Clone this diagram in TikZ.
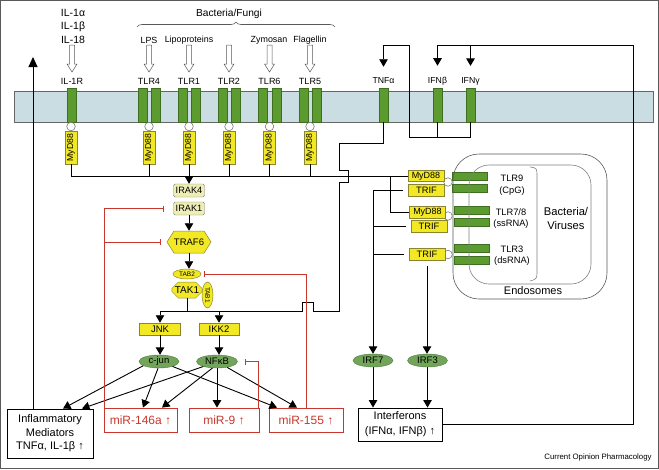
\documentclass[tikz,border=0pt]{standalone}
\usepackage{fontspec}
\setmainfont{Liberation Sans}
\usetikzlibrary{shapes.geometric,shapes.misc,shapes.symbols,arrows.meta,decorations.pathreplacing}
\definecolor{memb}{HTML}{CADDE2}
\definecolor{rgreen}{HTML}{5C9B2F}
\definecolor{rgreenD}{HTML}{3E6E1F}
\definecolor{ylw}{HTML}{F2E824}
\definecolor{ylwD}{HTML}{8C8530}
\definecolor{pale}{HTML}{EDEDB5}
\definecolor{egreen}{HTML}{72A55A}
\definecolor{egreenD}{HTML}{4C7A3A}
\definecolor{mred}{HTML}{C8372D}
\begin{document}
\begin{tikzpicture}[x=1pt,y=-1pt,
  recep/.style={draw=rgreenD,fill=rgreen,minimum width=9pt,minimum height=34pt,inner sep=0pt,line width=0.5pt},
  ebar/.style={draw=rgreenD,fill=rgreen,minimum width=35pt,minimum height=8pt,inner sep=0pt,line width=0.5pt},
  adap/.style={draw=ylwD,fill=ylw,inner sep=0pt,line width=0.5pt,font=\fontsize{9.3}{10}\selectfont},
  myv/.style={adap,rotate=90,minimum width=33pt,minimum height=12pt,font=\fontsize{8.7}{10}\selectfont},
  hyb/.style={adap,minimum width=36pt,minimum height=12pt},
  pbox/.style={draw=gray,fill=pale,rounded corners=1.5pt,minimum width=31pt,minimum height=13pt,inner sep=0pt,font=\fontsize{9.2}{10}\selectfont},
  gell/.style={ellipse,draw=egreenD,fill=egreen,minimum width=40pt,minimum height=13pt,inner sep=0pt,font=\fontsize{9.5}{10}\selectfont},
  lbl/.style={font=\fontsize{9}{10}\selectfont,inner sep=1pt},
  slbl/.style={font=\fontsize{8.7}{10}\selectfont,inner sep=1pt},
  lig/.style={font=\fontsize{8.9}{10}\selectfont,inner sep=1pt},
  circ/.style={circle,draw=gray!80!black,fill=white,minimum size=8.5pt,inner sep=0pt,line width=0.5pt},
  mir/.style={draw=mred,text=mred,line width=0.8pt,minimum height=24pt,inner sep=0pt,font=\fontsize{12}{13}\selectfont},
  obox/.style={draw=black,line width=0.9pt,align=center,inner sep=0pt},
  con/.style={line width=0.9pt},
  blk/.style={con,-{Triangle[length=7.5pt,width=8.5pt]}},
  inh/.style={mred,line width=0.8pt,-{Bar[width=6pt]}},
  hollow/.style={draw=gray!70!black,fill=white,line width=0.5pt}
]
\useasboundingbox (0,0) rectangle (659,469);
\draw[gray!70!black,line width=0.8pt] (0.5,0.5) rectangle (658.5,468.5);

% membrane
\draw[fill=memb,draw=gray!80!black,line width=0.5pt] (14,91.5) rectangle (653,122);

% receptors
\node[recep] (il1r) at (72,105) {};
\node[recep] (tlr4a) at (142.5,105) {};
\node[recep] (tlr4b) at (155.5,105) {};
\node[recep] (tlr1a) at (182.5,105) {};
\node[recep] (tlr1b) at (195.5,105) {};
\node[recep] (tlr2a) at (222.5,105) {};
\node[recep] (tlr2b) at (235.5,105) {};
\node[recep] (tlr6a) at (262.5,105) {};
\node[recep] (tlr6b) at (276.5,105) {};
\node[recep] (tlr5a) at (303.5,105) {};
\node[recep] (tlr5b) at (316.5,105) {};
\node[recep] (tnfR) at (383.5,105) {};
\node[recep] (ifnbR) at (437.5,105) {};
\node[recep] (ifngR) at (470.5,105) {};

% receptor labels
\node[lbl] (l-il1r) at (72,81) {IL-1R};
\node[lbl] (l-tlr4) at (149,81) {TLR4};
\node[lbl] (l-tlr1) at (189,81) {TLR1};
\node[lbl] (l-tlr2) at (229,81) {TLR2};
\node[lbl] (l-tlr6) at (269.5,81) {TLR6};
\node[lbl] (l-tlr5) at (310,81) {TLR5};
\node[slbl] (l-tnf) at (383.5,81) {TNFα};
\node[slbl] (l-ifnb) at (437.5,81) {IFNβ};
\node[slbl] (l-ifng) at (470.5,81) {IFNγ};

% ligands
\node[font=\fontsize{10.5}{12}\selectfont,inner sep=1pt] (il1a) at (73,13) {IL-1α};
\node[font=\fontsize{10.5}{12}\selectfont,inner sep=1pt] (il1b) at (73,26.5) {IL-1β};
\node[font=\fontsize{10.5}{12}\selectfont,inner sep=1pt] (il18) at (73,40) {IL-18};
\node[lig] (lps) at (149,40) {LPS};
\node[lig] (lipo) at (189,40) {Lipoproteins};
\node[lig] (zym) at (269,40) {Zymosan};
\node[lig] (flag) at (310,40) {Flagellin};
\node[font=\fontsize{10.2}{12}\selectfont] (bf) at (229,14) {Bacteria/Fungi};
\draw[gray!70!black,line width=0.6pt,decorate,decoration={brace,amplitude=5pt}] (137,27) -- (335,27);
\foreach \c in {72,149,189,229,269.5,310} {
  \draw[hollow] (\c-2.5,45) -- (\c+2.5,45) -- (\c+2.5,64) -- (\c+5,64) -- (\c,72) -- (\c-5,64) -- (\c-2.5,64) -- cycle;
}

% circles and MyD88
\foreach \c/\n in {71/0,149/1,189/2,229/3,269.5/4,310/5} {
  \node[circ] (c\n) at (\c,126.5) {};
  \node[myv] (m\n) at (\c,147.5) {MyD88};
}
\coordinate (hL) at (71,176);

% endosomal part
\node[ebar] (e9a) at (470,176) {};
\node[ebar] (e9b) at (470,188) {};
\node[ebar] (e78a) at (471.5,210) {};
\node[ebar] (e78b) at (471.5,222.5) {};
\node[ebar] (e3a) at (471.5,248.5) {};
\node[ebar] (e3b) at (471.5,260.5) {};
\draw[gray!70!black,line width=0.6pt,rounded corners=26pt] (453,154) rectangle (607,299);
\draw[gray,line width=0.6pt,rounded corners=20pt] (469,165) rectangle (591,284);
\draw[gray,line width=0.6pt] (530,167) .. controls (537,168) .. (537,177) -- (537,270) .. controls (537,279) .. (530,281);
\node[circ] (ce9) at (448,182) {};
\node[circ] (ce78) at (448,216) {};
\node[circ] (ce3) at (448,254.5) {};
\node[hyb,minimum height=11pt,font=\fontsize{9}{10}\selectfont] (tm9) at (426,176) {MyD88};
\node[hyb] (tf1) at (426.5,190.5) {TRIF};
\node[hyb,font=\fontsize{9}{10}\selectfont] (tm78) at (427.5,212) {MyD88};
\node[hyb] (tf2) at (429,226) {TRIF};
\node[hyb] (tf3) at (427,254) {TRIF};
\node[font=\fontsize{9.3}{11.5}\selectfont,align=center] (t9) at (512,185) {TLR9\\(CpG)};
\node[font=\fontsize{9.3}{11.5}\selectfont,align=center] (t78) at (511,218.5) {TLR7/8\\(ssRNA)};
\node[font=\fontsize{9.3}{11.5}\selectfont,align=center] (t3) at (512,255.5) {TLR3\\(dsRNA)};
\node[font=\fontsize{11.2}{13.5}\selectfont,align=center] (bv) at (566,218.5) {Bacteria/\\Viruses};
\node[font=\fontsize{11}{12}\selectfont] (endo) at (533,291) {Endosomes};

% central cascade
\node[pbox] (irak4) at (189,190.5) {IRAK4};
\node[pbox] (irak1) at (189,208.5) {IRAK1};
\node[adap,signal,signal to=west and east,signal pointer angle=115,minimum width=40pt,minimum height=22pt,font=\fontsize{9.5}{10}\selectfont] (traf6) at (189,242) {TRAF6};
\node[adap,ellipse,minimum width=28pt,minimum height=10pt,font=\fontsize{6.5}{7}\selectfont] (tab2) at (187,274) {TAB2};
\node[adap,chamfered rectangle,chamfered rectangle xsep=3pt,minimum width=27pt,minimum height=16pt,font=\fontsize{10}{11}\selectfont] (tak1) at (187,290) {TAK1};
\node[adap,ellipse,rotate=-90,minimum width=26pt,minimum height=11pt,font=\fontsize{6.5}{7}\selectfont] (tab1) at (207.5,295) {TAB1};
\node[adap,minimum width=41pt,minimum height=12pt,font=\fontsize{9.5}{10}\selectfont] (jnk) at (160,329) {JNK};
\node[adap,minimum width=40pt,minimum height=12pt,font=\fontsize{9.5}{10}\selectfont] (ikk2) at (219,329) {IKK2};
\node[gell] (cjun) at (159,361.5) {c-jun};
\node[gell,minimum width=41pt] (nfkb) at (217,361.5) {NFκB};
\node[gell] (irf7) at (373,360.5) {IRF7};
\node[gell] (irf3) at (427.5,360.5) {IRF3};

% output boxes
\node[obox,font=\fontsize{11}{13.5}\selectfont,minimum width=86pt,minimum height=49pt] (infl) at (50,433.5) {Inflammatory\\Mediators\\TNFα, IL-1β ↑};
\node[mir,minimum width=73pt] (m146) at (140.5,420) {miR-146a ↑};
\node[mir,minimum width=70pt] (m9) at (224,420) {miR-9 ↑};
\node[mir,minimum width=74pt] (m155) at (306,420) {miR-155 ↑};
\node[obox,font=\fontsize{11}{15}\selectfont,minimum width=84pt,minimum height=33pt] (ifn) at (400,424.5) {Interferons\\(IFNα, IFNβ) ↑};
\node[font=\fontsize{7.8}{9}\selectfont] (cop) at (598,457) {Current Opinion Pharmacology};

% MyD88 collector line
\foreach \n in {0,1,2,3,4,5} {\draw[con] (m\n.west) -- (m\n.west |- hL);}
\draw[con] (hL) -- (tm9.west);
\draw[blk] (m2.west |- hL) -- (irak4.north);
\coordinate (b1) at (390,176);
\draw[con] (b1) |- (tm78.west);

% cascade arrows
\draw[blk] (irak1.south) -- (traf6.south |- traf6.north);
\draw[blk] (traf6.south) -- (traf6.south |- tab2.north);
\coordinate (jL) at (160,311);
\draw[con] (tak1.south) -- (tak1.south |- jL);
\draw[con] (tnfR.south) |- (339,143) -- (339,170) -- (348,170) -- (348,182) -- (339,182) -- (339,311) -- (313,311) -- (313,302) -- (302,302) -- (302,311) -- (jL);
\draw[blk] (jL) -- (jnk.north);
\draw[blk] (ikk2.north |- jL) -- (ikk2.north);
\draw[blk] (jnk.south) -- (jnk.south |- cjun.north);
\draw[blk] (ikk2.south) -- (ikk2.south |- nfkb.north);

\draw[blk] (cjun.195) -- ([xshift=13pt]infl.north);
\draw[blk] (nfkb.200) -- ([xshift=32pt]infl.north);
\draw[blk] (cjun.262) -- ([xshift=2.5pt]m146.north);
\draw[blk] (nfkb.235) -- ([xshift=21.5pt]m146.north);
\draw[blk] (nfkb.south) -- (nfkb.south |- m9.north);
\draw[blk] (cjun.340) -- ([xshift=-29pt]m155.north);
\draw[blk] (nfkb.330) -- ([xshift=-9pt]m155.north);

% inhibitions
\draw[inh] ([xshift=1pt]m146.north west) |- ([xshift=-10pt]irak1.west);
\coordinate (rj) at (105,242);
\draw[inh] (rj) -- ([xshift=-6pt]traf6.west);
\draw[inh] (m155.north) |- ([xshift=3pt]tab2.east);
\draw[inh] ([xshift=-1pt]m9.north east) |- ([xshift=7pt]nfkb.east);

% TRIF / IRF
\coordinate (tv) at (373,190.5);
\draw[con,shorten <=5pt] (tf1.west) -- (tv);
\draw[con,shorten <=5pt] (tf2.west) -- (tf2.west -| tv);
\draw[con,shorten <=5pt] (tf3.west) -- (tf3.west -| tv);
\draw[blk] (tv) -- (irf7.north);
\draw[blk,shorten <=6pt] (tf3.south) -- (tf3.south |- irf3.north);
\draw[blk] (irf7.south) -- (irf7.south |- ifn.north);
\draw[blk] (irf3.south) -- (irf3.south |- ifn.north);

% feedback loops
\coordinate (tA) at (633,45);
\draw[blk,shorten >=10pt] (ifn.east) -| (tA) -| (l-ifnb.north);
\draw[blk,shorten >=10pt] (l-ifng.north |- tA) -- (l-ifng.north);
\coordinate (jB) at (409,137);
\draw[con] (ifnbR.south) |- (jB);
\draw[con] (ifngR.south) |- (jB);
\draw[blk,shorten >=10pt] (jB) -- (jB |- tA) -| (l-tnf.north);

% big up arrow
\coordinate (upT) at (33,57);
\draw[con,-{Triangle[length=10pt,width=9pt]}] (infl.north -| upT) -- (upT);
\end{tikzpicture}
\end{document}
